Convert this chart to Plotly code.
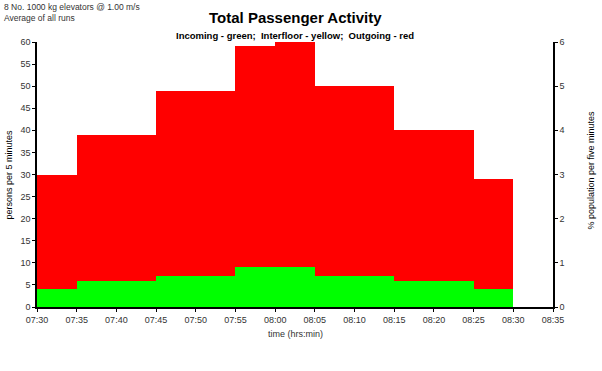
import plotly.graph_objects as go

# 5-minute slots (left edges)
slot_starts = ["07:30", "07:35", "07:40", "07:45", "07:50", "07:55",
               "08:00", "08:05", "08:10", "08:15", "08:20", "08:25"]
incoming = [4, 6, 6, 7, 7, 9, 9, 7, 7, 6, 6, 4]
interfloor = [0, 0, 0, 0, 0, 0, 0, 0, 0, 0, 0, 0]
outgoing = [26, 33, 33, 42, 42, 50, 51, 43, 43, 34, 34, 25]

x_start = "07:30"
x_end = "08:35"
pct_range = [0, 6]
persons_range = [0, 60]

day = "2000-01-01 "
xs = [day + s for s in slot_starts]
FONT = "Liberation Sans, Arial, sans-serif"
WIDTH_MS = 5 * 60 * 1000

fig = go.Figure()
for vals, col, name in [(incoming, "#00FF00", "Incoming"),
                        (interfloor, "#FFFF00", "Interfloor"),
                        (outgoing, "#FF0000", "Outgoing")]:
    fig.add_trace(go.Bar(x=xs, y=vals, name=name, marker=dict(color=col, line=dict(width=0)),
                         width=WIDTH_MS, offset=0, showlegend=False, hoverinfo="skip"))

# invisible trace for the secondary axis
fig.add_trace(go.Scatter(x=[day + x_start], y=[0], yaxis="y2", mode="markers",
                         marker=dict(opacity=0), showlegend=False, hoverinfo="skip"))

axis_font = dict(family=FONT, size=9, color="#333333")
fig.update_layout(
    width=602, height=371,
    margin=dict(l=37, r=49, t=42, b=64),
    paper_bgcolor="white", plot_bgcolor="white",
    barmode="stack", bargap=0,
    xaxis=dict(type="date", range=[day + x_start, day + x_end], tickformat="%H:%M",
               dtick=WIDTH_MS, tick0=day + x_start, ticks="outside", ticklen=3,
               tickcolor="black", showline=True, linecolor="black", linewidth=1.5,
               showgrid=False, zeroline=False, tickfont=axis_font),
    yaxis=dict(range=persons_range, dtick=5, ticks="outside", ticklen=3, tickcolor="black",
               showline=True, linecolor="black", linewidth=1.5, showgrid=False,
               zeroline=False, tickfont=axis_font),
    yaxis2=dict(range=pct_range, dtick=1, overlaying="y", side="right", ticks="outside",
                ticklen=3, tickcolor="black", showline=True, linecolor="black", linewidth=1.5,
                showgrid=False, zeroline=False, tickfont=axis_font),
    annotations=[
        dict(text="<b>Total Passenger Activity</b>", x=0.5, y=1.0, xref="paper", yref="paper",
             xanchor="center", yanchor="bottom", yshift=14, showarrow=False,
             font=dict(family=FONT, size=15, color="black")),
        dict(text="<b>Incoming - green;  Interfloor - yellow;  Outgoing - red</b>",
             x=0.5, y=1.0, xref="paper", yref="paper", xanchor="center", yanchor="bottom",
             yshift=-1, showarrow=False, font=dict(family=FONT, size=9.5, color="black")),
        dict(text="8 No. 1000 kg elevators @ 1.00 m/s<br>Average of all runs",
             x=0, y=1, xref="paper", yref="paper", xanchor="left", yanchor="top",
             align="left", showarrow=False, xshift=-35, yshift=42,
             font=dict(family=FONT, size=8.5, color="#333333")),
        dict(text="persons per 5 minutes", textangle=-90, x=0, y=0.5, xref="paper",
             yref="paper", xanchor="center", yanchor="middle", xshift=-29, showarrow=False,
             font=dict(family=FONT, size=9, color="black")),
        dict(text="% population per five minutes", textangle=-90, x=1, y=0.5, xref="paper",
             yref="paper", xanchor="center", yanchor="middle", xshift=37, yshift=4,
             showarrow=False, font=dict(family=FONT, size=9, color="black")),
        dict(text="time (hrs:min)", x=0.5, y=0, xref="paper", yref="paper",
             xanchor="center", yanchor="middle", yshift=-27, showarrow=False,
             font=dict(family=FONT, size=9, color="#333333")),
    ],
)

fig.write_html("out.html", config={"displayModeBar": False},
               post_script="document.body.style.margin='0';document.body.style.padding='0';")
